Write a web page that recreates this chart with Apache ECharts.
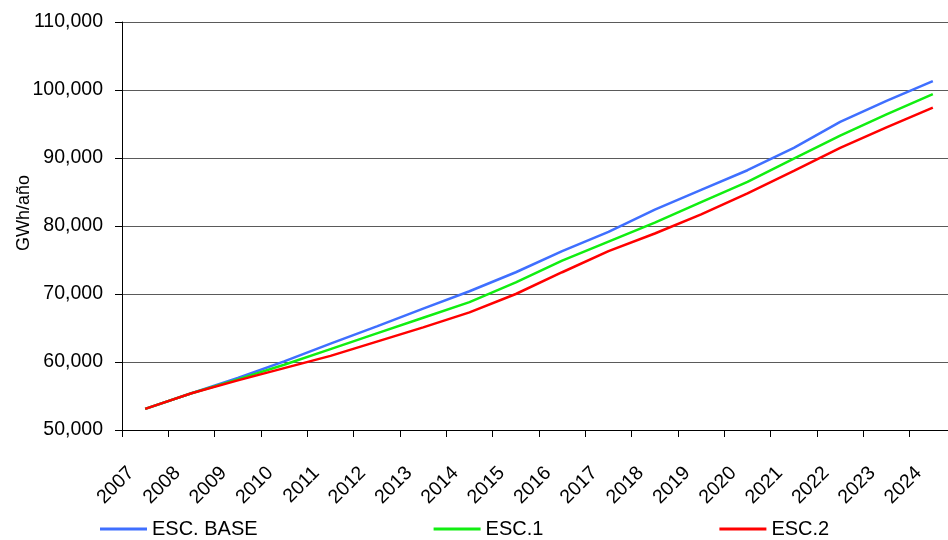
<!DOCTYPE html>
<html>
<head>
<meta charset="utf-8">
<title>GWh/año</title>
<script src="https://cdn.jsdelivr.net/npm/echarts@6/dist/echarts.min.js"></script>
<style>
	html, body { margin: 0; padding: 0; background: #fff; overflow: hidden; }
	/* el area del grafico sale un poco por la derecha, como en el original */
	#chart { width: 956px; height: 540px; }
</style>
</head>
<body>
<div id="chart"></div>
<script>
	// categorias (años)
	var years = ['2007', '2008', '2009', '2010', '2011', '2012', '2013', '2014', '2015',
		'2016', '2017', '2018', '2019', '2020', '2021', '2022', '2023', '2024'];

	// series
	var escBase = [53100, 55400, 57650, 60100, 62700, 65250, 67850, 70400, 73200,
		76300, 79150, 82400, 85300, 88200, 91500, 95300, 98400, 101300];
	var esc1 = [53100, 55400, 57450, 59600, 61900, 64200, 66500, 68800, 71700,
		74900, 77700, 80500, 83500, 86500, 89900, 93300, 96400, 99400];
	var esc2 = [53100, 55400, 57300, 59100, 60900, 63000, 65100, 67300, 70000,
		73200, 76300, 78900, 81700, 84800, 88100, 91500, 94500, 97400];

	var seriesNames = ['ESC. BASE', 'ESC.1', 'ESC.2'];
	var seriesColors = ['#3F6FFF', '#11EE11', '#FF0000'];

	var yMin = 50000, yMax = 110000, yStep = 10000;

	var font = 'Liberation Sans, Arial, sans-serif';

	function fmtThousands(v) {
		return String(v).replace(/\B(?=(\d{3})+(?!\d))/g, ',');
	}

	function makeLine(name, data, color) {
		return {
			name: name,
			type: 'line',
			data: data,
			symbol: 'none',
			smooth: false,
			lineStyle: { color: color, width: 2.5 },
			itemStyle: { color: color },
			animation: false
		};
	}

	var chart = echarts.init(document.getElementById('chart'), null, { renderer: 'canvas' });

	chart.setOption({
		backgroundColor: '#fff',
		animation: false,
		textStyle: { fontFamily: font, color: '#000' },
		grid: { left: 122, top: 22, right: 0, bottom: 110, containLabel: false, outerBoundsMode: 'none' },
		legend: {
			data: seriesNames,
			left: 100,
			top: 519,
			padding: 0,
			icon: 'rect',
			itemWidth: 47,
			itemHeight: 3,
			itemGap: 176,
			textStyle: { fontSize: 20, color: '#000', fontFamily: font }
		},
		xAxis: {
			type: 'category',
			data: years,
			boundaryGap: true,
			axisLine: { lineStyle: { color: '#000', width: 1 } },
			axisTick: { show: true, alignWithLabel: false, length: 7, lineStyle: { color: '#000' } },
			axisLabel: {
				rotate: 45, margin: 26, padding: [0, 20, 0, 0],
				fontSize: 19.5, color: '#000', fontFamily: font, interval: 0
			},
			splitLine: { show: false }
		},
		yAxis: {
			type: 'value',
			min: yMin,
			max: yMax,
			interval: yStep,
			name: 'GWh/año',
			nameLocation: 'middle',
			nameGap: 89,
			nameMoveOverlap: false,
			nameTextStyle: { fontSize: 18, color: '#000', fontFamily: font, padding: [0, 0, 0, 26] },
			axisLine: { show: true, lineStyle: { color: '#000', width: 1 } },
			axisTick: { show: true, length: 7, lineStyle: { color: '#000' } },
			axisLabel: {
				fontSize: 19.5, color: '#000', fontFamily: font, margin: 19,
				formatter: function(v) { return fmtThousands(v); }
			},
			splitLine: { show: true, lineStyle: { color: '#5a5a5a', width: 1 } }
		},
		series: [
			makeLine(seriesNames[0], escBase, seriesColors[0]),
			makeLine(seriesNames[1], esc1, seriesColors[1]),
			makeLine(seriesNames[2], esc2, seriesColors[2])
		]
	});
</script>
</body>
</html>
